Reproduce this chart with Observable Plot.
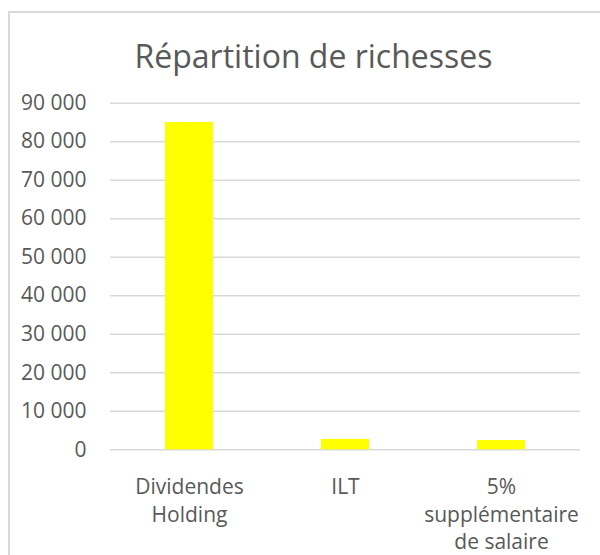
<!DOCTYPE html>
<html>
<head>
<meta charset="utf-8">
<script src="https://cdn.jsdelivr.net/npm/d3@7"></script>
<script src="https://cdn.jsdelivr.net/npm/@observablehq/plot@0.6"></script>
<style>
  html, body { margin: 0; padding: 0; background: #fff; overflow: hidden; }
  body { width: 600px; height: 555px; position: relative; font-family: "Open Sans", sans-serif; }
  #frame { position: absolute; left: 8px; top: 11px; width: 700px; height: 700px; border-left: 2px solid #d9d9d9; border-top: 2px solid #d9d9d9; }
  #title { position: absolute; left: 9px; width: 609px; top: 40px; text-align: center; font-size: 32px; line-height: 32px; color: #595959; }
  #chart { position: absolute; left: 0; top: 0; }
</style>
</head>
<body>
<div id="frame"></div>
<div id="chart"></div>
<div id="title">Répartition de richesses</div>
<script>
const categories = ["Dividendes Holding", "ILT", "5% supplémentaire de salaire"];
const tickLabels = ["Dividendes\nHolding", "ILT", "5%\nsupplémentaire\nde salaire"];
const values = [85000, 2700, 2400];
const yTicks = [0, 10000, 20000, 30000, 40000, 50000, 60000, 70000, 80000, 90000];

const data = categories.map((c, i) => ({category: c, value: values[i]}));
const fmt = d3.formatLocale({decimal: ",", thousands: " ", grouping: [3], currency: ["", " €"]}).format(",d");

const chart = Plot.plot({
  width: 600,
  height: 555,
  marginTop: 102.7,
  marginBottom: 105.7,
  marginLeft: 110,
  marginRight: 20,
  style: {fontFamily: "Open Sans, sans-serif", background: "transparent", overflow: "visible"},
  x: {domain: categories, paddingInner: 0.69, paddingOuter: 0.345, label: null},
  y: {domain: [0, 90000], label: null},
  marks: [
    Plot.ruleY(yTicks, {stroke: "#d9d9d9", strokeWidth: 1.5}),
    Plot.barY(data, {x: "category", y: "value", fill: "#ffff00"}),
    Plot.axisY({ticks: yTicks, tickFormat: fmt, tickSize: 0, tickPadding: 24, fontSize: 21, color: "#595959", label: null}),
    Plot.axisX({tickFormat: (d) => tickLabels[categories.indexOf(d)], tickSize: 0, tickPadding: 24, fontSize: 21, lineHeight: 1.33, color: "#595959", label: null})
  ]
});
document.getElementById("chart").appendChild(chart);
</script>
</body>
</html>
